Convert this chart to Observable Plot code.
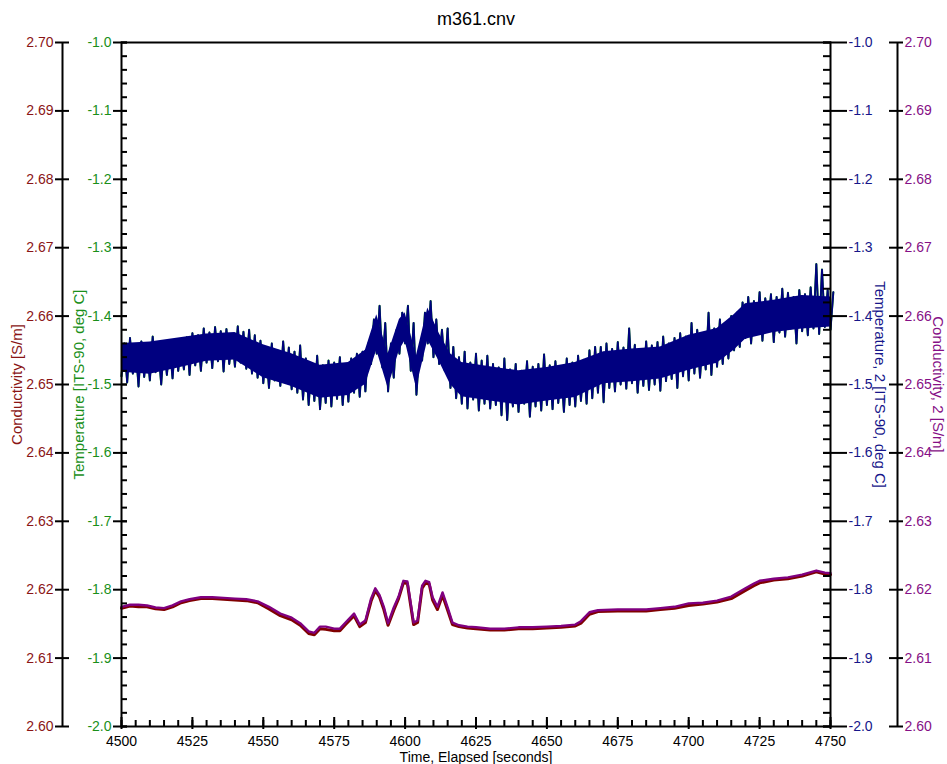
<!DOCTYPE html>
<html><head><meta charset="utf-8">
<script src="https://cdn.jsdelivr.net/npm/d3@7"></script>
<script src="https://cdn.jsdelivr.net/npm/@observablehq/plot@0.6"></script>
<style>html,body{margin:0;padding:0;background:#fff;}</style>
</head><body><div id="chart"></div>
<script>
// ---------- scales / ticks ----------
const timeDomain = [4500, 4750];
const tempDomain = [-2.0, -1.0];
const condDomain = [2.60, 2.70];
const xTicks = [4500, 4525, 4550, 4575, 4600, 4625, 4650, 4675, 4700, 4725, 4750];
const tempTicks = [-2.0, -1.9, -1.8, -1.7, -1.6, -1.5, -1.4, -1.3, -1.2, -1.1, -1.0];
const condTicks = [2.60, 2.61, 2.62, 2.63, 2.64, 2.65, 2.66, 2.67, 2.68, 2.69, 2.70];
const xMinorTicks = d3.range(4500, 4751, 5);
const tempMinorTicks = d3.range(-2.0, -0.99, 0.02);

// ---------- titles ----------
const chartTitle = "m361.cnv";
const xLabel = "Time, Elapsed [seconds]";
const condLabel = "Conductivity [S/m]";
const tempLabel = "Temperature [ITS-90, deg C]";
const temp2Label = "Temperature, 2 [ITS-90, deg C]";
const cond2Label = "Conductivity, 2 [S/m]";

// ---------- temperature series (sampled every 2 s: high / low of the noisy trace) ----------
const tempTime = d3.range(4500, 4751, 2);
const tempHigh = [
  -1.440,-1.432,-1.445,-1.437,-1.443,-1.430,-1.446,-1.438,-1.442,-1.434,-1.436,
  -1.431,-1.425,-1.428,-1.418,-1.424,-1.416,-1.422,-1.419,-1.426,-1.415,-1.423,-1.420,-1.428,
  -1.436,-1.445,-1.440,-1.450,-1.437,-1.446,-1.452,-1.443,
  -1.462,-1.470,-1.458,-1.472,-1.465,-1.468,-1.460,-1.470,-1.462,-1.455,-1.452,
  -1.440,-1.405,-1.385,-1.410,-1.440,-1.420,-1.395,-1.385,-1.410,-1.450,-1.395,-1.378,-1.405,-1.420,-1.418,-1.445,
  -1.460,-1.452,-1.468,-1.455,-1.465,-1.458,-1.470,-1.475,-1.462,-1.478,-1.470,-1.480,-1.466,-1.474,-1.470,-1.456,-1.472,-1.466,-1.475,-1.462,-1.468,-1.458,-1.464,-1.450,-1.445,
  -1.445,-1.440,-1.448,-1.438,-1.446,-1.418,-1.442,-1.450,-1.437,-1.443,-1.438,-1.430,-1.440,
  -1.432,-1.425,-1.430,-1.410,-1.420,-1.426,-1.395,-1.418,-1.405,-1.412,-1.400,-1.395,
  -1.380,-1.372,-1.378,-1.365,-1.374,-1.368,-1.372,-1.360,-1.366,-1.372,-1.362,-1.368,-1.358,-1.324,-1.332,-1.362,-1.365
];
const tempLow = [
  -1.488,-1.497,-1.484,-1.503,-1.489,-1.494,-1.482,-1.500,-1.486,-1.491,-1.480,
  -1.478,-1.486,-1.472,-1.480,-1.468,-1.476,-1.466,-1.481,-1.470,-1.474,-1.468,-1.477,-1.484,
  -1.490,-1.498,-1.505,-1.494,-1.502,-1.497,-1.507,-1.512,
  -1.522,-1.530,-1.524,-1.536,-1.527,-1.532,-1.521,-1.530,-1.525,-1.512,-1.518,
  -1.510,-1.470,-1.455,-1.475,-1.510,-1.490,-1.455,-1.440,-1.480,-1.515,-1.465,-1.440,-1.460,-1.470,-1.480,-1.505,
  -1.520,-1.528,-1.535,-1.522,-1.538,-1.528,-1.535,-1.530,-1.545,-1.552,-1.532,-1.540,-1.528,-1.547,-1.532,-1.538,-1.530,-1.536,-1.527,-1.540,-1.530,-1.532,-1.524,-1.528,-1.520,
  -1.512,-1.526,-1.505,-1.510,-1.500,-1.506,-1.498,-1.512,-1.502,-1.508,-1.500,-1.509,-1.495,
  -1.492,-1.505,-1.488,-1.494,-1.484,-1.490,-1.478,-1.486,-1.474,-1.470,-1.462,-1.450,
  -1.445,-1.432,-1.440,-1.425,-1.436,-1.420,-1.438,-1.424,-1.430,-1.418,-1.440,-1.422,-1.428,-1.418,-1.426,-1.416,-1.420
];
// solid core of the noisy temperature band
const coreTime = [4500,4510,4520,4530,4540,4550,4560,4570,4580,4586,4590,4594,4598,4600,4604,4608,4612,4616,4620,4630,4640,4650,4660,4670,4680,4690,4700,4710,4716,4720,4730,4740,4750];
const coreTop = [-1.440,-1.438,-1.432,-1.426,-1.424,-1.442,-1.455,-1.472,-1.468,-1.450,-1.398,-1.455,-1.405,-1.395,-1.458,-1.388,-1.425,-1.455,-1.468,-1.474,-1.480,-1.475,-1.468,-1.452,-1.448,-1.445,-1.428,-1.418,-1.398,-1.382,-1.377,-1.370,-1.372];
const coreBottom = [-1.482,-1.485,-1.476,-1.466,-1.464,-1.490,-1.503,-1.520,-1.516,-1.500,-1.450,-1.505,-1.450,-1.436,-1.505,-1.435,-1.466,-1.500,-1.518,-1.524,-1.530,-1.524,-1.519,-1.499,-1.496,-1.492,-1.479,-1.469,-1.450,-1.434,-1.424,-1.419,-1.416];

// ---------- conductivity series ----------
const condTime = [
  4500,4503,4506,4509,4512,4515,4518,4521,4524,4528,
  4532,4536,4540,4544,4548,4552,4556,4560,4563,4566,
  4568,4570,4572,4575,4577,4579,4582,4584,4586,4588,
  4589.5,4591,4592.5,4594,4596,4597.7,4599.4,4600.8,4602,4603,
  4604.4,4606,4607.2,4608.5,4609.7,4611.4,4613.2,4615,4616.7,4619,
  4622,4625,4630,4635,4640,4645,4650,4655,4660,4662,
  4665,4668,4675,4680,4685,4690,4695,4700,4705,4710,
  4715,4720,4723,4725,4730,4735,4740,4745,4748,4750
];
const cond2 = [
  2.6175,2.6178,2.6178,2.6177,2.6174,2.6173,2.6177,2.6183,2.6186,2.6189,
  2.6189,2.6188,2.6187,2.6186,2.6183,2.6175,2.6165,2.6159,2.6151,2.6139,
  2.6137,2.6146,2.6146,2.6143,2.6143,2.6152,2.6165,2.6149,2.6155,2.6187,
  2.6202,2.6192,2.6175,2.6151,2.6174,2.6190,2.6213,2.6212,2.6180,2.6152,
  2.6155,2.6206,2.6213,2.6211,2.6189,2.6175,2.6196,2.6174,2.6152,2.6148,
  2.6146,2.6145,2.6143,2.6143,2.6145,2.6145,2.6146,2.6147,2.6149,2.6154,
  2.6167,2.6170,2.6171,2.6171,2.6171,2.6173,2.6175,2.6180,2.6181,2.6184,
  2.6190,2.6202,2.6209,2.6213,2.6216,2.6218,2.6222,2.6228,2.6225,2.6224
];
const cond1 = [
  2.6173,2.6176,2.6175,2.6175,2.6172,2.6171,2.6175,2.6181,2.6184,2.6187,
  2.6187,2.6186,2.6185,2.6184,2.6181,2.6172,2.6162,2.6156,2.6148,2.6136,
  2.6134,2.6143,2.6142,2.6140,2.6140,2.6149,2.6162,2.6146,2.6152,2.6183,
  2.6199,2.6189,2.6171,2.6148,2.6170,2.6187,2.6210,2.6209,2.6176,2.6149,
  2.6152,2.6202,2.6210,2.6208,2.6185,2.6171,2.6192,2.6170,2.6149,2.6146,
  2.6144,2.6143,2.6141,2.6141,2.6143,2.6143,2.6144,2.6145,2.6147,2.6151,
  2.6164,2.6168,2.6169,2.6169,2.6169,2.6171,2.6173,2.6177,2.6179,2.6182,
  2.6187,2.6199,2.6206,2.6210,2.6214,2.6216,2.6220,2.6226,2.6223,2.6222
];

// ---------- colours ----------
const navy = "#000080", green = "#008000", maroon = "#800000", purple = "#800080";
const navyText = "#16168a", greenText = "#1a8f1a", maroonText = "#8a1515", purpleText = "#860f86";

// ---------- build tables ----------
// conductivity drawn on the shared y scale through a linear mapping of its own axis range
const condToTemp = d3.scaleLinear(condDomain, tempDomain);
const coreRows = coreTime.map((t, i) => ({t, lo: coreBottom[i], hi: coreTop[i]}));
const tempPts = [];
tempTime.forEach((t, i) => {
  tempPts.push({t, v: tempLow[i]});
  tempPts.push({t: t + 1, v: tempHigh[i]});
});
const condPts = condTime.map((t, i) => ({t, c1: condToTemp(cond1[i]), c2: condToTemp(cond2[i])}));

const fmt1 = d => d.toFixed(1);
const fmtC = d => condToTemp.invert(d).toFixed(2);
const condTickPos = condTicks.map(condToTemp);
const axisCommon = {stroke: "black", strokeWidth: 2, label: null};

const chart = Plot.plot({
  width: 947, height: 764,
  marginLeft: 121, marginRight: 117, marginTop: 42, marginBottom: 38,
  style: {fontFamily: '"Liberation Sans", Arial, sans-serif', fontSize: "14px", background: "#fff", overflow: "visible"},
  x: {domain: timeDomain},
  y: {domain: tempDomain},
  marks: [
    Plot.line(tempPts, {x: "t", y: "v", stroke: green, strokeWidth: 2}),
    Plot.line(tempPts, {x: "t", y: "v", stroke: navy, strokeWidth: 1.8}),
    Plot.areaY(coreRows, {x: "t", y1: "lo", y2: "hi", fill: navy}),
    Plot.line(condPts, {x: "t", y: "c1", stroke: maroon, strokeWidth: 3}),
    Plot.line(condPts, {x: "t", y: "c2", stroke: purple, strokeWidth: 2.4}),
    Plot.frame({stroke: "black", strokeWidth: 2}),
    Plot.ruleX([timeDomain[0]], {dx: -59, stroke: "black", strokeWidth: 2}),
    Plot.ruleX([timeDomain[1]], {dx: 67, stroke: "black", strokeWidth: 2}),
    // inner left temperature axis
    Plot.axisY(tempTicks, {...axisCommon, anchor: "left", tickSize: 14, dx: 6, tickPadding: 2, fill: greenText, tickFormat: fmt1}),
    Plot.axisY(tempMinorTicks, {...axisCommon, anchor: "left", tickSize: 6, dx: 6, fill: "none"}),
    // outer left conductivity axis
    Plot.axisY(condTickPos, {...axisCommon, anchor: "left", tickSize: 14, dx: -52, tickPadding: 2, fill: maroonText, tickFormat: fmtC}),
    // inner right temperature 2 axis
    Plot.axisY(tempTicks, {...axisCommon, anchor: "right", tickSize: 24, dx: -8, tickPadding: 2, fill: navyText, tickFormat: fmt1}),
    Plot.axisY(tempMinorTicks, {...axisCommon, anchor: "right", tickSize: 8, dx: -8, fill: "none"}),
    // outer right conductivity 2 axis
    Plot.axisY(condTickPos, {...axisCommon, anchor: "right", tickSize: 14, dx: 58, tickPadding: 2, fill: purpleText, tickFormat: fmtC}),
    // x axis
    Plot.axisX(xTicks, {...axisCommon, anchor: "bottom", tickSize: 12, dy: -9, tickPadding: 7, fill: "black", tickFormat: d => String(d)}),
    Plot.axisX(xMinorTicks, {...axisCommon, anchor: "bottom", tickSize: 6, dy: -6, fill: "none"}),
    // titles
    Plot.text([chartTitle], {text: d => d, frameAnchor: "top", dy: -23, lineAnchor: "middle", textAnchor: "middle", fontSize: 18, fill: "black"}),
    Plot.text([xLabel], {text: d => d, frameAnchor: "bottom", dy: 31, lineAnchor: "middle", textAnchor: "middle", fontSize: 14, fill: "black"}),
    Plot.text([condLabel], {text: d => d, frameAnchor: "left", dx: -104, rotate: -90, lineAnchor: "middle", textAnchor: "middle", fontSize: 15, fill: maroonText}),
    Plot.text([tempLabel], {text: d => d, frameAnchor: "left", dx: -42, rotate: -90, lineAnchor: "middle", textAnchor: "middle", fontSize: 15, fill: greenText}),
    Plot.text([temp2Label], {text: d => d, frameAnchor: "right", dx: 49, rotate: 90, lineAnchor: "middle", textAnchor: "middle", fontSize: 15, fill: navyText}),
    Plot.text([cond2Label], {text: d => d, frameAnchor: "right", dx: 107, rotate: 90, lineAnchor: "middle", textAnchor: "middle", fontSize: 15, fill: purpleText})
  ]
});
document.getElementById("chart").append(chart);
</script>
</body></html>
